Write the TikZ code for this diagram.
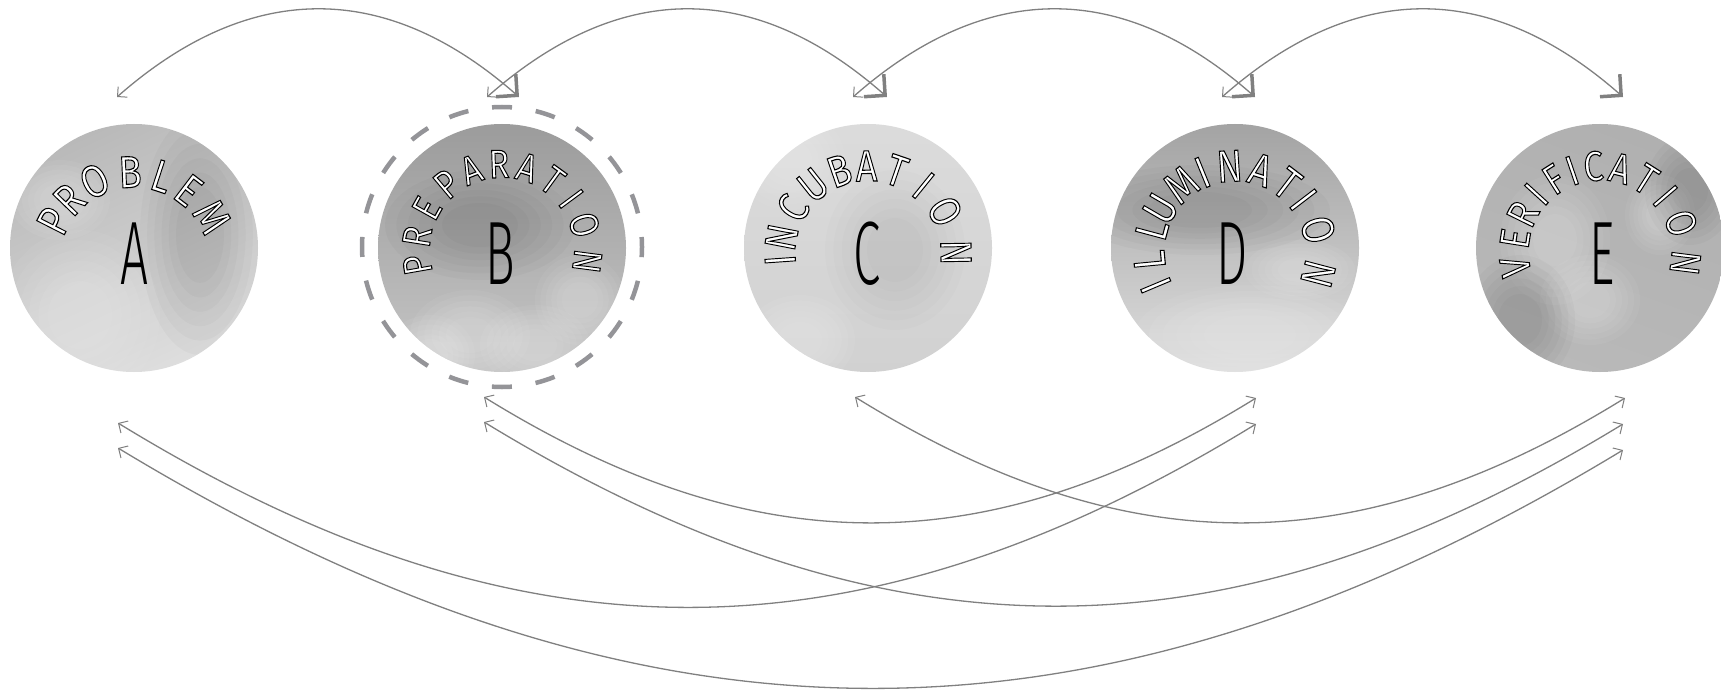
\documentclass[tikz,border=0pt]{standalone}
\usepackage{graphicx}
\usepackage{fontspec}
\setmainfont{Fira Sans}
\newfontfamily\thinfont{Fira Sans Light}
\newfontfamily\arcfont{Fira Sans}
\usetikzlibrary{arrows.meta,calc}

\definecolor{linegray}{RGB}{128,128,128}
\definecolor{dashgray}{RGB}{148,148,152}

\newcommand\outl[1]{\special{pdf:literal direct 2 Tr 1.1 w 0 0 0 RG}#1\special{pdf:literal direct 0 Tr}}

\tikzset{
  bubble/.style={circle, inner sep=0pt, minimum size=248pt, shading=axis},
  bigletter/.style={inner sep=0pt, font=\thinfont\fontsize{90}{90}\selectfont, text=black},
  arcletter/.style={inner sep=0pt, text=white},
  conn/.style={draw=linegray, line width=1.3pt},
  thintip/.tip={Straight Barb[length=7pt,width=14pt,line width=1pt]},
  thicktip/.tip={Straight Barb[length=15pt,width=30pt,line width=3.5pt]},
  ring/.style={draw=dashgray, line width=4.5pt, dash pattern=on 20pt off 23.98pt, dash phase=10pt},
}

% soft watercolour blot: x, y, rx, ry, colour, opacity per layer
\newcommand\softblot[6]{%
  \foreach \s in {1,0.88,0.76,0.64,0.52,0.4} {
    \fill[#5, opacity=#6] (#1,#2) ellipse ({#3*\s} and {#4*\s});
  }}

% #1 name, #2 cx, #3 cy, #4 radius, #5 font size, #6 list
\newcommand\arcword[6]{%
  \foreach \ang/\ch [count=\i] in {#6} {
    \node[arcletter, font=\arcfont\fontsize{#5}{#5}\selectfont, rotate=\ang-90] (#1-\i) at ([shift={(\ang:#4)}] #2,-#3) {\scalebox{0.85}[1]{\outl{\ch}}};
  }}

\begin{document}
\begin{tikzpicture}[x=1pt,y=1pt]
\useasboundingbox (0,0) rectangle (1721,-690);
\fill[white] (0,0) rectangle (1721,-690);

% circles
\node[bubble, top color=gray!55, bottom color=gray!26, shading angle=25] (cA) at (134,-248) {};
\node[bubble, top color=gray!78, bottom color=gray!45] (cB) at (502,-248) {};
\node[bubble, top color=gray!28, bottom color=gray!36] (cC) at (868,-248) {};
\node[bubble, top color=gray!72, bottom color=gray!26] (cD) at (1235,-248) {};
\node[bubble, top color=gray!62, bottom color=gray!55, shading angle=-20] (cE) at (1600,-248) {};

% watercolour blots
\begin{scope}
  \clip (134,-248) circle (124);
  \softblot{80}{-315}{80}{85}{white}{0.05}
  \softblot{200}{-235}{60}{120}{black}{0.022}
  \softblot{60}{-200}{50}{40}{white}{0.05}
\end{scope}
\begin{scope}
  \clip (502,-248) circle (124);
  \softblot{470}{-335}{60}{45}{white}{0.05}
  \softblot{535}{-345}{55}{40}{white}{0.05}
  \softblot{580}{-300}{45}{45}{white}{0.05}
  \softblot{430}{-355}{45}{40}{white}{0.05}
  \softblot{480}{-225}{95}{55}{black}{0.022}
\end{scope}
\begin{scope}
  \clip (868,-248) circle (124);
  \softblot{895}{-250}{70}{80}{black}{0.012}
  \softblot{790}{-160}{55}{50}{white}{0.05}
  \softblot{800}{-340}{55}{45}{white}{0.05}
\end{scope}
\begin{scope}
  \clip (1235,-248) circle (124);
  \softblot{1200}{-210}{130}{45}{black}{0.022}
  \softblot{1250}{-335}{115}{50}{white}{0.05}
  \softblot{1300}{-270}{55}{30}{white}{0.05}
\end{scope}
\begin{scope}
  \clip (1600,-248) circle (124);
  \softblot{1555}{-240}{55}{65}{white}{0.05}
  \softblot{1590}{-300}{50}{45}{white}{0.05}
  \softblot{1660}{-215}{35}{40}{white}{0.05}
  \softblot{1520}{-320}{55}{65}{black}{0.022}
  \softblot{1690}{-190}{45}{55}{black}{0.022}
\end{scope}

% dashed ring around B
\draw[ring] (502,-247) circle (140);

% big letters
\node[bigletter] (lA) at (134,-254) {\scalebox{0.55}[1]{A}};
\node[bigletter] (lB) at (500,-254) {\scalebox{0.55}[1]{B}};
\node[bigletter] (lC) at (867,-254) {\scalebox{0.55}[1]{C}};
\node[bigletter] (lD) at (1232,-254) {\scalebox{0.55}[1]{D}};
\node[bigletter] (lE) at (1602,-254) {\scalebox{0.55}[1]{E}};

% curved words
\arcword{wA}{134}{262}{90}{45}{153/P,136/R,116/O,92.5/B,72/L,52.7/E,30/M}
\arcword{wB}{502}{250}{86}{40}{190/P,171/R,151/E,130/P,111/A,92/R,73/A,54/T,36.5/I,17/O,-7.5/N}
\arcword{wC}{868}{254}{88}{44}{184/I,169/N,148.5/C,128.5/U,109/B,91/A,71/T,51/I,29/O,1/N}
\arcword{wD}{1235}{252}{86}{45}{202.8/I,185.4/L,165/L,149.8/U,128.6/M,112.2/I,93.6/N,72.6/A,52.7/T,37.4/I,15/O,-14.7/N}
\arcword{wE}{1600}{252}{86}{42}{190/V,171/E,153.8/R,137.7/I,122.3/F,108.9/I,94.4/C,76.4/A,57.7/T,40.6/I,19.6/O,-7.2/N}

% connector end points
\coordinate (A-tl) at (117,-97);
\coordinate (B-tl) at (487,-97);
\coordinate (C-tl) at (853,-97);
\coordinate (D-tl) at (1222,-97);
\coordinate (B-tr) at (519,-97);
\coordinate (C-tr) at (887,-97);
\coordinate (D-tr) at (1255,-97);
\coordinate (E-tr) at (1623,-97);

\coordinate (A-b1) at (118,-423);
\coordinate (A-b2) at (118,-448);
\coordinate (B-b1) at (484,-397);
\coordinate (B-b2) at (484,-422);
\coordinate (C-b1) at (855,-397);
\coordinate (D-b1) at (1256,-398);
\coordinate (D-b2) at (1256,-424);
\coordinate (E-b1) at (1625,-398);
\coordinate (E-b2) at (1623,-424);
\coordinate (E-b3) at (1623,-450);

% top arcs
\draw[conn, thintip-thicktip] (A-tl) .. controls +(133,117) and +(-133,117) .. (B-tr);
\draw[conn, thintip-thicktip] (B-tl) .. controls +(133,117) and +(-133,117) .. (C-tr);
\draw[conn, thintip-thicktip] (C-tl) .. controls +(133,117) and +(-133,117) .. (D-tr);
\draw[conn, thintip-thicktip] (D-tl) .. controls +(133,117) and +(-133,117) .. (E-tr);

% bottom arcs
\draw[conn, thintip-thintip] (B-b1) .. controls +(270,-167) and +(-270,-167) .. (D-b1);
\draw[conn, thintip-thintip] (C-b1) .. controls +(270,-167) and +(-270,-167) .. (E-b1);
\draw[conn, thintip-thintip] (A-b1) .. controls +(400,-245) and +(-400,-245) .. (D-b2);
\draw[conn, thintip-thintip] (B-b2) .. controls +(400,-244) and +(-400,-244) .. (E-b2);
\draw[conn, thintip-thintip] (A-b2) .. controls +(527,-319) and +(-527,-319) .. (E-b3);
\end{tikzpicture}
\end{document}
